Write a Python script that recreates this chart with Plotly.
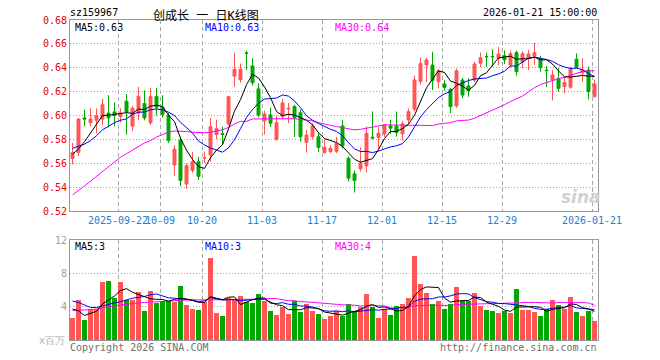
import numpy as np
import pandas as pd
import plotly.graph_objects as go

# the page body has an 8px margin, so the figure is drawn 8px smaller and all
# pixel positions below (taken from the 660x360 reference) are shifted by 8px
OFF = 8
W, H = 660 - OFF, 360 - OFF

# ---------------- data ----------------
open_ = [0.564, 0.569, 0.598, 0.594, 0.596, 0.597, 0.602, 0.603, 0.599, 0.612,
         0.591, 0.602, 0.610, 0.594, 0.616, 0.607, 0.600, 0.5585, 0.5795, 0.5426,
         0.554, 0.5613, 0.564, 0.567, 0.584, 0.5848, 0.593, 0.633, 0.630, 0.6525,
         0.6415, 0.6223, 0.5955, 0.6005, 0.580, 0.599, 0.6055, 0.6075, 0.6023, 0.5775,
         0.5822, 0.5822, 0.569, 0.5698, 0.570, 0.5913, 0.5642, 0.5511, 0.5553, 0.5578,
         0.5818, 0.5817, 0.5846, 0.5913, 0.5913, 0.5846, 0.5963, 0.6053, 0.6286, 0.6423,
         0.6423, 0.6283, 0.6264, 0.622, 0.608, 0.6297, 0.6247, 0.6297, 0.6437, 0.6495,
         0.6495, 0.648, 0.650, 0.6424, 0.6527, 0.6447, 0.6479, 0.6498, 0.6475, 0.638,
         0.6298, 0.6311, 0.6242, 0.6237, 0.6472, 0.6358, 0.6381, 0.6157]
high = [0.577, 0.598, 0.605, 0.606, 0.606, 0.614, 0.617, 0.611, 0.606, 0.618,
        0.608, 0.624, 0.621, 0.623, 0.623, 0.617, 0.602, 0.575, 0.582, 0.560,
        0.5696, 0.5654, 0.5697, 0.598, 0.5965, 0.5906, 0.6165, 0.6526, 0.6435, 0.6543,
        0.648, 0.627, 0.604, 0.6065, 0.600, 0.6138, 0.6105, 0.609, 0.605, 0.5878,
        0.5936, 0.5853, 0.580, 0.575, 0.582, 0.5963, 0.5656, 0.5539, 0.5734, 0.5907,
        0.6035, 0.5901, 0.5925, 0.5963, 0.6033, 0.5953, 0.606, 0.6335, 0.6485, 0.6484,
        0.6534, 0.639, 0.6297, 0.6228, 0.6395, 0.6315, 0.6311, 0.6452, 0.6528, 0.6526,
        0.6555, 0.6575, 0.6545, 0.6545, 0.6544, 0.654, 0.655, 0.661, 0.650, 0.6416,
        0.638, 0.640, 0.632, 0.641, 0.652, 0.648, 0.6409, 0.630]
low = [0.559, 0.566, 0.591, 0.591, 0.585, 0.592, 0.590, 0.591, 0.594, 0.584,
       0.587, 0.596, 0.596, 0.592, 0.600, 0.598, 0.577, 0.5495, 0.541, 0.5385,
       0.552, 0.546, 0.560, 0.5613, 0.580, 0.5753, 0.592, 0.624, 0.6275, 0.638,
       0.625, 0.5985, 0.584, 0.5905, 0.579, 0.597, 0.5935, 0.582, 0.578, 0.569,
       0.580, 0.5696, 0.568, 0.5683, 0.5685, 0.5725, 0.5447, 0.5355, 0.553, 0.5522,
       0.580, 0.5718, 0.582, 0.5846, 0.5823, 0.579, 0.593, 0.6035, 0.626, 0.628,
       0.6213, 0.6228, 0.6208, 0.602, 0.6065, 0.6145, 0.6157, 0.628, 0.6405, 0.6409,
       0.641, 0.642, 0.643, 0.640, 0.6333, 0.6395, 0.638, 0.6424, 0.6367, 0.624,
       0.6125, 0.620, 0.6185, 0.6225, 0.6395, 0.6283, 0.6135, 0.6153]
close = [0.569, 0.597, 0.597, 0.597, 0.600, 0.609, 0.598, 0.600, 0.602, 0.603,
         0.606, 0.616, 0.598, 0.616, 0.607, 0.601, 0.579, 0.5718, 0.5455, 0.558,
         0.5613, 0.549, 0.5645, 0.5906, 0.589, 0.5842, 0.6157, 0.6387, 0.6387, 0.652,
         0.6275, 0.6005, 0.6012, 0.5935, 0.594, 0.6105, 0.606, 0.598, 0.5822, 0.5836,
         0.5911, 0.5733, 0.5733, 0.5725, 0.5767, 0.5745, 0.5475, 0.5455, 0.560, 0.5851,
         0.5812, 0.5851, 0.5922, 0.5894, 0.5857, 0.593, 0.6033, 0.6298, 0.6435, 0.6465,
         0.6292, 0.6375, 0.6236, 0.6074, 0.6375, 0.6171, 0.6208, 0.6431, 0.6484, 0.6492,
         0.6492, 0.6515, 0.6466, 0.6518, 0.6368, 0.6518, 0.6515, 0.6526, 0.640, 0.6376,
         0.634, 0.6228, 0.6276, 0.6388, 0.6404, 0.6381, 0.620, 0.6264]
volume = [2.68, 4.8, 2.4, 3.68, 3.7, 7.0, 7.08, 5.0, 6.92, 4.8,
          4.8, 5.76, 3.48, 5.88, 4.48, 4.72, 4.72, 4.56, 6.48, 4.2,
          3.76, 3.6, 4.6, 9.84, 3.28, 2.88, 5.08, 4.8, 5.28, 4.56,
          4.48, 5.52, 4.68, 3.48, 3.0, 3.92, 3.16, 4.68, 3.36, 4.32,
          3.48, 3.12, 2.52, 2.88, 3.48, 2.92, 4.32, 3.48, 4.0, 5.52,
          4.0, 2.6, 3.72, 3.0, 4.08, 4.32, 5.04, 10.08, 6.72, 5.68,
          4.32, 4.68, 3.72, 4.32, 6.36, 4.72, 4.64, 5.68, 4.08, 3.6,
          3.52, 3.28, 3.52, 3.28, 6.12, 3.6, 3.6, 3.4, 2.88, 3.72,
          4.8, 4.2, 3.76, 5.16, 3.36, 2.88, 3.48, 2.28]

# moving-average values before a full window exists
ma5_head = [0.5675, 0.572, 0.578, 0.585]
ma10_head = [0.5725, 0.574, 0.576, 0.579, 0.583, 0.588, 0.591, 0.594, 0.596]
ma30_head = [0.5335, 0.537, 0.541, 0.545, 0.549, 0.553, 0.557, 0.561, 0.565, 0.568,
             0.571, 0.574, 0.577, 0.579, 0.582, 0.584, 0.586, 0.587, 0.587, 0.5865,
             0.586, 0.5855, 0.5855, 0.586, 0.587, 0.588, 0.590, 0.593, 0.595]
vma5_head = [3.72, 3.5, 2.95, 3.2]
vma10_head = [4.68, 4.5, 4.2, 3.9, 3.9, 4.1, 4.3, 4.45, 4.6]
vma30_head = [3.52, 3.55, 3.6, 3.65, 3.7, 3.85, 4.0, 4.1, 4.2, 4.3,
              4.4, 4.45, 4.5, 4.55, 4.62, 4.68, 4.72, 4.75, 4.78, 4.8,
              4.8, 4.8, 4.82, 4.85, 4.85, 4.85, 4.85, 4.85, 4.85]

tick_idx = [8, 15, 22, 32, 42, 52, 62, 72, 87]
tick_labels = ["2025-09-22", "10-09", "10-20", "11-03", "11-17",
               "12-01", "12-15", "12-29", "2026-01-21"]
price_ticks = [0.52, 0.54, 0.56, 0.58, 0.60, 0.62, 0.64, 0.66, 0.68]
vol_ticks = [4, 8, 12]

code = "sz159967"
title = "创成长 一 日K线图"
stamp = "2026-01-21 15:00:00"

# ---------------- helpers ----------------
def moving(values, n, head):
    s = pd.Series(values, dtype=float).rolling(n).mean().to_numpy()
    s[:len(head)] = head
    return s

def fx(px):  # reference pixel x -> paper fraction
    return (px - OFF) / W

def fy(py):  # reference pixel y -> paper fraction
    return 1 - (py - OFF) / H

n = len(close)
xc = np.arange(n) + 5 / 12  # candle centres inside 6px slots

RED = "#ff5555"
GREEN = "#00a800"
MONO = "DejaVu Sans Mono, Liberation Mono, monospace"
TITLE_FONT = "DejaVu Sans Mono, Noto Sans CJK SC, sans-serif"

ma5 = moving(close, 5, ma5_head)
ma10 = moving(close, 10, ma10_head)
ma30 = moving(close, 30, ma30_head)
vma5 = moving(volume, 5, vma5_head)
vma10 = moving(volume, 10, vma10_head)
vma30 = moving(volume, 30, vma30_head)

vol_colors = [RED if c >= o else GREEN for o, c in zip(open_, close)]

fig = go.Figure()
fig.add_trace(go.Candlestick(
    x=xc, open=open_, high=high, low=low, close=close,
    increasing=dict(line=dict(color=RED, width=1), fillcolor=RED),
    decreasing=dict(line=dict(color=GREEN, width=1), fillcolor=GREEN),
    whiskerwidth=0, xaxis="x", yaxis="y", showlegend=False, hoverinfo="skip"))
for arr, col in [(ma30, "#ff00ff"), (ma10, "#0000ff"), (ma5, "#000000")]:
    fig.add_trace(go.Scatter(x=xc, y=arr, mode="lines", line=dict(color=col, width=1),
                             xaxis="x", yaxis="y", showlegend=False, hoverinfo="skip"))

fig.add_trace(go.Bar(x=xc, y=volume, width=5 / 6, marker=dict(color=vol_colors, line=dict(width=0)),
                     xaxis="x2", yaxis="y2", showlegend=False, hoverinfo="skip"))
for arr, col in [(vma30, "#ff00ff"), (vma10, "#0000ff"), (vma5, "#000000")]:
    fig.add_trace(go.Scatter(x=xc, y=arr, mode="lines", line=dict(color=col, width=1),
                             xaxis="x2", yaxis="y2", showlegend=False, hoverinfo="skip"))

xdom = [fx(70), fx(598)]
common_x = dict(domain=xdom, range=[0, n], tickvals=tick_idx, showgrid=True,
                gridcolor="#a8a8a8", griddash="4px,3px", gridwidth=1,
                showline=True, mirror=True, linecolor="#999999", linewidth=1,
                ticks="", zeroline=False, fixedrange=True, automargin=False, tickangle=0)
common_y = dict(showgrid=True, gridcolor="#a8a8a8", griddash="1px,2px", gridwidth=1,
                showline=True, mirror=True, linecolor="#999999", linewidth=1,
                ticks="", zeroline=False, fixedrange=True, automargin=False)
fig.update_layout(
    width=W, height=H, margin=dict(l=0, r=0, t=0, b=0, autoexpand=False),
    paper_bgcolor="white", plot_bgcolor="white", boxgap=0.3, bargap=0,
    xaxis=dict(**common_x, anchor="y", ticktext=tick_labels,
               tickfont=dict(family=MONO, size=10, color="#1a80d0"),
               rangeslider=dict(visible=False)),
    yaxis=dict(**common_y, domain=[fy(211), fy(20)], range=[0.52, 0.68],
               tickvals=price_ticks, ticktext=[f"{v:.2f}" for v in price_ticks],
               tickfont=dict(family=MONO, size=10, color="#ee0000")),
    xaxis2=dict(**common_x, anchor="y2", showticklabels=False),
    yaxis2=dict(**common_y, domain=[fy(340), fy(240)], range=[0, 12],
                tickvals=vol_ticks, tickfont=dict(family=MONO, size=10, color="#a0a0a0")),
)

def note(text, px, py, color="#000000", anchor="left", size=10, family=MONO,
         yanchor="middle", **kw):
    fig.add_annotation(text=text, x=fx(px), y=fy(py), xref="paper", yref="paper",
                       xanchor=anchor, yanchor=yanchor, showarrow=False, borderpad=0,
                       font=dict(family=family, size=size, color=color), **kw)

note(code, 69, 13)
note(title, 206, 8, anchor="center", size=12, family=TITLE_FONT, yanchor="top")
note(stamp, 598, 13, anchor="right")
note(f"MA5:{ma5[-1]:.2f}", 74, 28)
note(f"MA10:{ma10[-1]:.2f}", 204, 28, color="#0000ff")
note(f"MA30:{ma30[-1]:.2f}", 334, 28, color="#ff00ff")
note(f"MA5:{int(vma5[-1])}", 74, 246)
note(f"MA10:{int(vma10[-1])}", 204, 246, color="#0000ff")
note(f"MA30:{int(vma30[-1])}", 334, 246, color="#ff00ff")
note("x百万", 66, 340, color="#b0b0b0", anchor="right")
note("Copyright 2026 SINA.COM", 69, 347, color="#707070")
note("http://finance.sina.com.cn", 598, 347, color="#707070", anchor="right")
note("<b><i>sina</i></b>", 581, 197, color="#d0d0d0", anchor="center", size=17,
     family="DejaVu Sans, sans-serif")

fig.write_html("out.html")
